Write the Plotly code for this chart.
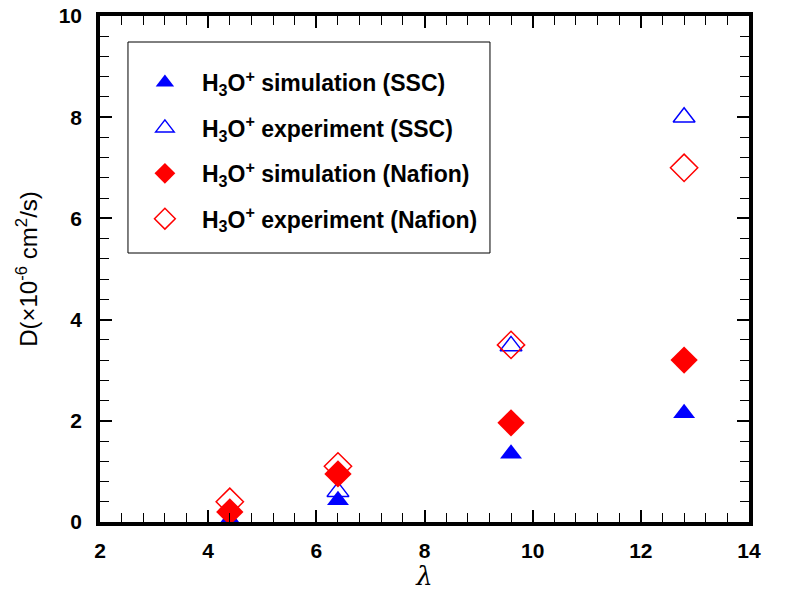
import plotly.graph_objects as go

lam = [4.4, 6.4, 9.6, 12.8]
ssc_sim = [0.05, 0.43, 1.35, 2.15]
lam_ssc_exp = [6.4, 9.6, 12.8]
ssc_exp = [0.6, 3.48, 8.0]
naf_sim = [0.2, 0.95, 1.96, 3.2]
naf_exp = [0.4, 1.1, 3.5, 7.0]

x_ticks = [2, 4, 6, 8, 10, 12, 14]
y_ticks = [0, 2, 4, 6, 8, 10]

names = [
    "<b>H<sub>3</sub>O<sup>+</sup> simulation (SSC)</b>",
    "<b>H<sub>3</sub>O<sup>+</sup> experiment (SSC)</b>",
    "<b>H<sub>3</sub>O<sup>+</sup> simulation (Nafion)</b>",
    "<b>H<sub>3</sub>O<sup>+</sup> experiment (Nafion)</b>",
]

fig = go.Figure()
fig.add_trace(go.Scatter(x=lam, y=ssc_sim, mode="markers", name=names[0], legendgroup="a",
                         marker=dict(symbol="triangle-up", size=19, color="#0000ff", line=dict(width=0))))
fig.add_trace(go.Scatter(x=lam_ssc_exp, y=ssc_exp, mode="markers", name=names[1], legendgroup="b",
                         marker=dict(symbol="triangle-up-open", size=19, color="#0000ff", line=dict(width=1.5))))
fig.add_trace(go.Scatter(x=lam, y=naf_sim, mode="markers", name=names[2], legendgroup="c",
                         marker=dict(symbol="diamond", size=21, color="#ff0000", line=dict(width=0))))
fig.add_trace(go.Scatter(x=lam, y=naf_exp, mode="markers", name=names[3], legendgroup="d",
                         marker=dict(symbol="diamond-open", size=21, color="#ff0000", line=dict(width=1.5))))

axis_common = dict(
    showline=True, linewidth=3.5, linecolor="black", mirror="ticks",
    ticks="inside", ticklen=12, tickwidth=1.5, tickcolor="black",
    showgrid=False, zeroline=False, automargin=False,
    tickfont=dict(family="Liberation Sans, Arial", size=21, color="black", weight="bold"),
)

# legend frame (decoration), in plot-area fractions
fig.add_shape(type="rect", xref="paper", yref="paper",
              x0=0.0431, x1=0.6009, y0=0.5316, y1=0.9486,
              line=dict(color="black", width=1), fillcolor="white", layer="below")

fig.update_layout(
    width=791, height=591,
    margin=dict(l=100, r=42, t=16, b=69),
    plot_bgcolor="white", paper_bgcolor="white",
    xaxis=dict(range=[2, 14], tickvals=x_ticks, ticktext=[f"<b>{v}</b>" for v in x_ticks],
               ticklabelstandoff=7,
               minor=dict(dtick=0.4, tick0=2, ticks="inside", ticklen=9, tickwidth=1.2, tickcolor="black"),
               title=dict(text="<i>λ</i>", font=dict(family="DejaVu Serif", size=26, color="black")),
               **axis_common),
    yaxis=dict(range=[0, 10], tickvals=y_ticks, ticktext=[f"<b>{v}</b>" for v in y_ticks],
               ticklabelstandoff=10,
               minor=dict(dtick=0.4, tick0=0, ticks="inside", ticklen=9, tickwidth=1.2, tickcolor="black"),
               title=dict(text="D(×10<sup>-6</sup> cm<sup>2</sup>/s)", font=dict(family="Liberation Sans, Arial", size=24, color="black")),
               **axis_common),
    legend=dict(x=0.043, y=0.911, xanchor="left", yanchor="top",
                bgcolor="rgba(0,0,0,0)", borderwidth=0,
                font=dict(family="Liberation Sans, Arial", size=23, color="black"),
                traceorder="grouped", tracegroupgap=12.5, itemsizing="trace", itemwidth=64),
    showlegend=True,
)

fig.write_html("out.html")
